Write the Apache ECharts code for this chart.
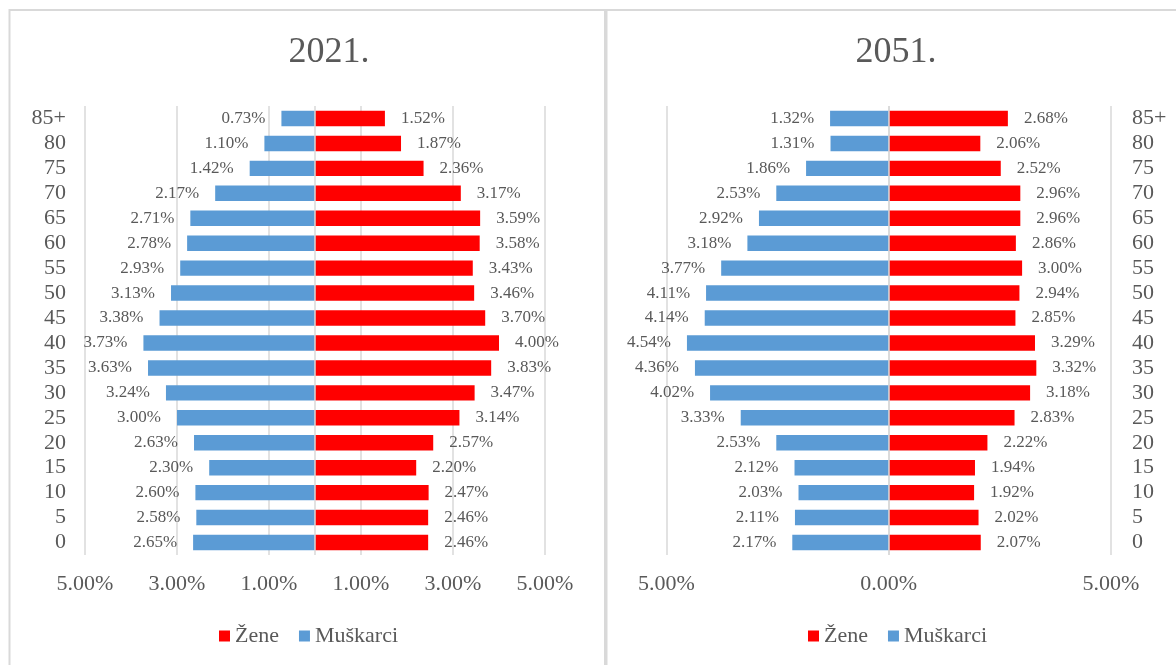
<!DOCTYPE html>
<html>
<head>
<meta charset="utf-8">
<script src="https://cdn.jsdelivr.net/npm/echarts@6/dist/echarts.min.js"></script>
<style>html,body{margin:0;padding:0;background:#fff;}#c{width:1176px;height:665px;}</style>
</head>
<body>
<div id="c"></div>
<script>
// Age groups, bottom to top
const ages = ['0','5','10','15','20','25','30','35','40','45','50','55','60','65','70','75','80','85+'];
// 2021 (percent of population)
const muski2021 = [2.65,2.58,2.60,2.30,2.63,3.00,3.24,3.63,3.73,3.38,3.13,2.93,2.78,2.71,2.17,1.42,1.10,0.73];
const zene2021  = [2.46,2.46,2.47,2.20,2.57,3.14,3.47,3.83,4.00,3.70,3.46,3.43,3.58,3.59,3.17,2.36,1.87,1.52];
// 2051 (percent of population)
const muski2051 = [2.17,2.11,2.03,2.12,2.53,3.33,4.02,4.36,4.54,4.14,4.11,3.77,3.18,2.92,2.53,1.86,1.31,1.32];
const zene2051  = [2.07,2.02,1.92,1.94,2.22,2.83,3.18,3.32,3.29,2.85,2.94,3.00,2.86,2.96,2.96,2.52,2.06,2.68];
const titles = ['2021.', '2051.'];
const seriesNames = ['Žene', 'Muškarci'];

const FONT = '"Liberation Serif","Times New Roman",serif';
const TXT = '#595959';
const GRID = '#d9d9d9';
const RED = '#ff0000';
const BLUE = '#5b9bd5';

const pct = v => Math.abs(v).toFixed(2) + '%';

function barSeries(name, idx, values, sign, color, pos, withLine) {
  const s = {
    name: name, type: 'bar', xAxisIndex: idx, yAxisIndex: idx,
    data: values.map(v => sign * v),
    barGap: '-100%', barCategoryGap: '38%',
    itemStyle: { color: color },
    label: { show: true, position: pos, distance: 16, formatter: p => pct(p.value),
             fontFamily: FONT, fontSize: 17, color: TXT },
    emphasis: { disabled: true }
  };
  if (withLine) {
    s.markLine = { silent: true, symbol: 'none', label: { show: false },
      lineStyle: { color: GRID, type: 'solid', width: 1.5 }, data: [{ xAxis: 0 }] };
  }
  return s;
}

const legendBase = {
  data: seriesNames.map(n => ({ name: n, icon: 'rect' })),
  top: 620, itemWidth: 11, itemHeight: 11, itemGap: 20,
  textStyle: { fontFamily: FONT, fontSize: 22, color: TXT }, selectedMode: false
};

const chart = echarts.init(document.getElementById('c'), null, { renderer: 'canvas' });
chart.setOption({
  animation: false,
  backgroundColor: '#fff',
  graphic: [
    { type: 'rect', shape: { x: 9.5, y: 10, width: 595.5, height: 700 }, style: { fill: 'none', stroke: GRID, lineWidth: 2 } },
    { type: 'rect', shape: { x: 606.5, y: 10, width: 600, height: 700 }, style: { fill: 'none', stroke: GRID, lineWidth: 2 } },
    { type: 'text', x: 329, y: 53, style: { text: titles[0], font: '36px ' + FONT, fill: TXT, align: 'center', verticalAlign: 'middle' } },
    { type: 'text', x: 896, y: 53, style: { text: titles[1], font: '36px ' + FONT, fill: TXT, align: 'center', verticalAlign: 'middle' } }
  ],
  legend: [
    Object.assign({}, legendBase, { left: 214 }),
    Object.assign({}, legendBase, { left: 803 })
  ],
  grid: [
    { left: 85, top: 106, width: 460, height: 449, containLabel: false },
    { left: 666.5, top: 106, width: 444.5, height: 449, containLabel: false }
  ],
  xAxis: [
    { type: 'value', gridIndex: 0, min: -5, max: 5, interval: 2,
      axisLine: { show: false }, axisTick: { show: false },
      splitLine: { show: true, lineStyle: { color: GRID, width: 1.5 } },
      axisLabel: { formatter: v => pct(v), fontFamily: FONT, fontSize: 22, color: TXT, margin: 18 } },
    { type: 'value', gridIndex: 1, min: -5, max: 5, interval: 5,
      axisLine: { show: false }, axisTick: { show: false },
      splitLine: { show: true, lineStyle: { color: GRID, width: 1.5 } },
      axisLabel: { formatter: v => pct(v), fontFamily: FONT, fontSize: 22, color: TXT, margin: 18 } }
  ],
  yAxis: [
    { type: 'category', gridIndex: 0, data: ages, position: 'left',
      axisLine: { show: false, onZero: false }, axisTick: { show: false },
      axisLabel: { interval: 0, fontFamily: FONT, fontSize: 22, color: TXT, margin: 19 } },
    { type: 'category', gridIndex: 1, data: ages, position: 'right',
      axisLine: { show: false, onZero: false }, axisTick: { show: false },
      axisLabel: { interval: 0, fontFamily: FONT, fontSize: 22, color: TXT, margin: 21 } }
  ],
  series: [
    barSeries(seriesNames[0], 0, zene2021, 1, RED, 'right', true),
    barSeries(seriesNames[1], 0, muski2021, -1, BLUE, 'left', false),
    barSeries(seriesNames[0], 1, zene2051, 1, RED, 'right', true),
    barSeries(seriesNames[1], 1, muski2051, -1, BLUE, 'left', false)
  ]
});
</script>
</body>
</html>
